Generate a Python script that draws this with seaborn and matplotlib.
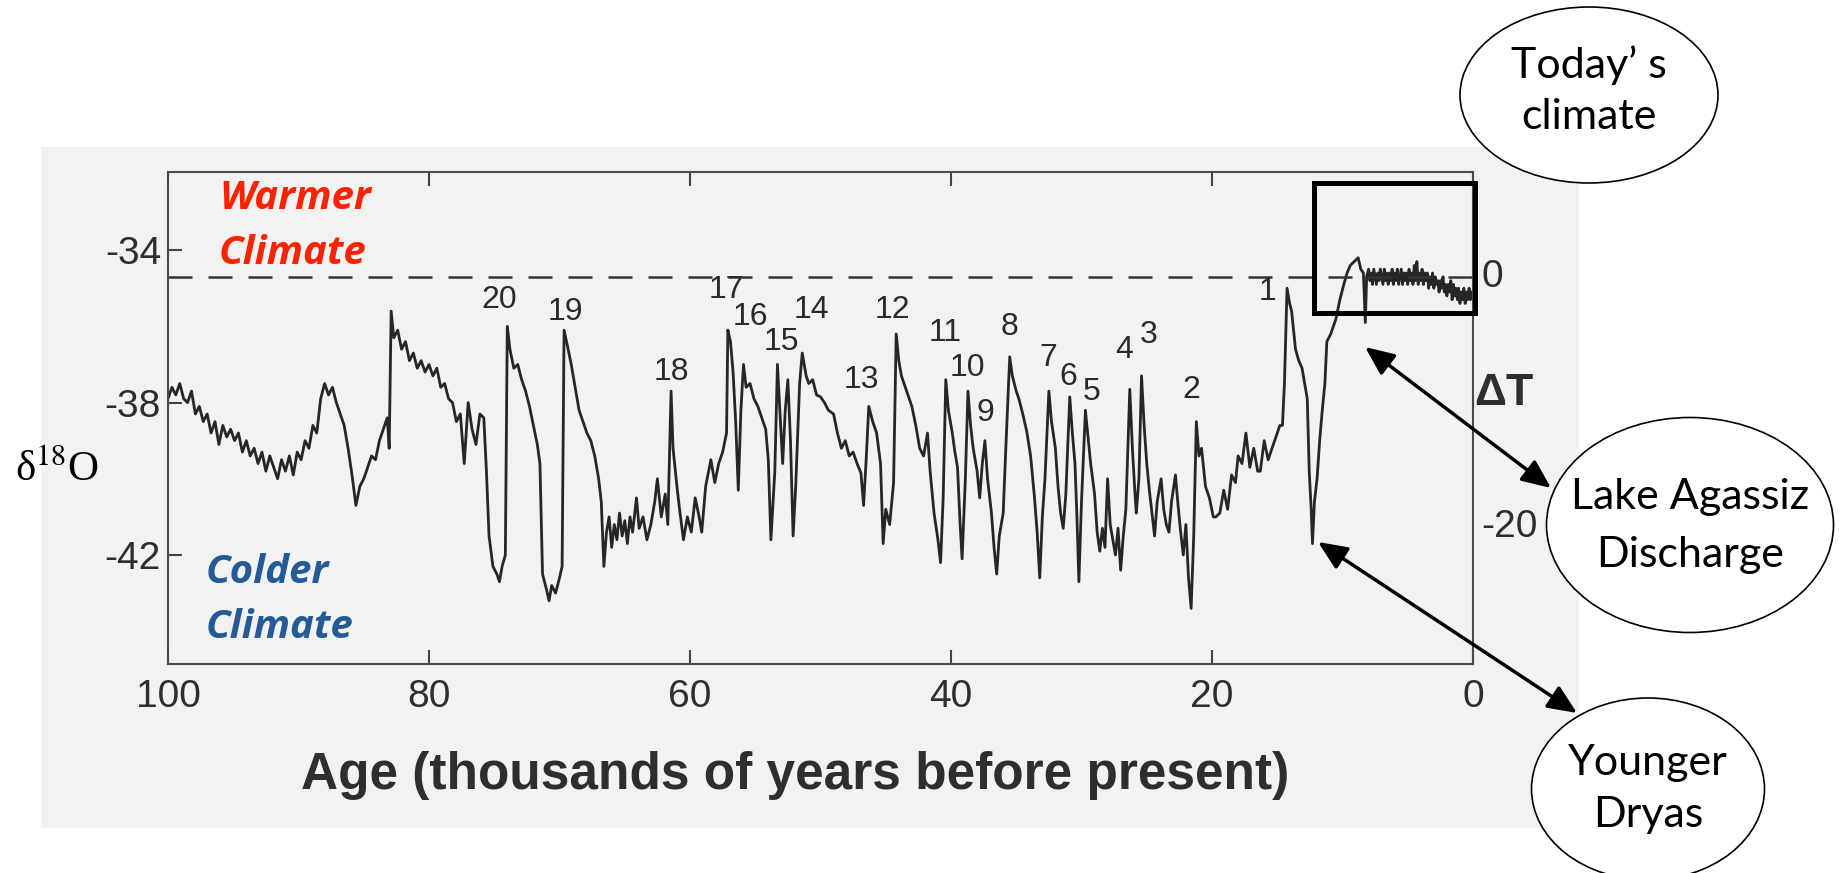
import pandas as pd
import matplotlib
matplotlib.use('Agg')
import matplotlib.pyplot as plt
import seaborn as sns
from matplotlib.patches import Ellipse, Rectangle, FancyArrowPatch

# GISP2-style oxygen isotope record
age_kyr = [
    100.0, 99.7, 99.4, 99.1, 98.8, 98.5, 98.2, 97.9, 97.6, 97.3,
    97.0, 96.7, 96.4, 96.1, 95.8, 95.5, 95.2, 94.9, 94.6, 94.3,
    94.0, 93.7, 93.4, 93.1, 92.8, 92.5, 92.2, 91.9, 91.6, 91.3,
    91.0, 90.7, 90.4, 90.1, 89.8, 89.5, 89.2, 88.9, 88.6, 88.3,
    88.0, 87.7, 87.4, 87.1, 86.8, 86.5, 86.2, 85.9, 85.6, 85.3,
    85.0, 84.7, 84.4, 84.1, 83.8, 83.5, 83.2, 83.05, 82.9, 82.7,
    82.4, 82.1, 81.8, 81.5, 81.2, 80.9, 80.6, 80.3, 80.0, 79.7,
    79.4, 79.1, 78.8, 78.5, 78.2, 77.9, 77.6, 77.3, 77.0, 76.7,
    76.4, 76.1, 75.8, 75.6, 75.4, 75.1, 74.8, 74.6, 74.4, 74.15,
    74.0, 73.8, 73.5, 73.2, 72.9, 72.6, 72.3, 72.0, 71.7, 71.5,
    71.3, 71.0, 70.8, 70.6, 70.3, 70.0, 69.8, 69.65, 69.4, 69.1,
    68.8, 68.5, 68.2, 67.9, 67.6, 67.3, 67.0, 66.8, 66.6, 66.4,
    66.2, 66.0, 65.8, 65.6, 65.4, 65.2, 65.0, 64.8, 64.6, 64.4,
    64.1, 63.9, 63.6, 63.3, 63.0, 62.7, 62.5, 62.2, 61.9, 61.7,
    61.45, 61.3, 61.0, 60.8, 60.5, 60.2, 59.9, 59.6, 59.3, 59.1,
    58.8, 58.4, 58.1, 57.8, 57.5, 57.2, 57.1, 56.9, 56.7, 56.5,
    56.3, 56.1, 55.9, 55.7, 55.4, 55.1, 54.8, 54.5, 54.2, 54.0,
    53.8, 53.5, 53.3, 53.1, 52.9, 52.7, 52.5, 52.3, 52.1, 51.9,
    51.6, 51.4, 51.1, 50.9, 50.6, 50.3, 50.0, 49.7, 49.4, 49.0,
    48.7, 48.4, 48.1, 47.8, 47.5, 47.2, 46.9, 46.7, 46.5, 46.3,
    46.0, 45.7, 45.4, 45.2, 45.0, 44.7, 44.4, 44.2, 44.0, 43.8,
    43.5, 43.2, 43.0, 42.7, 42.4, 42.1, 41.8, 41.6, 41.3, 41.0,
    40.8, 40.6, 40.4, 40.2, 39.9, 39.7, 39.5, 39.3, 39.15, 38.9,
    38.7, 38.5, 38.3, 38.0, 37.8, 37.6, 37.4, 37.2, 36.9, 36.7,
    36.5, 36.3, 36.0, 35.8, 35.5, 35.3, 35.0, 34.8, 34.5, 34.2,
    33.9, 33.6, 33.4, 33.2, 33.0, 32.8, 32.5, 32.3, 32.0, 31.8,
    31.6, 31.4, 31.2, 30.9, 30.7, 30.5, 30.35, 30.2, 30.0, 29.7,
    29.5, 29.3, 29.0, 28.8, 28.6, 28.4, 28.2, 28.0, 27.8, 27.6,
    27.4, 27.2, 27.0, 26.8, 26.6, 26.3, 26.1, 25.9, 25.8, 25.6,
    25.4, 25.2, 25.0, 24.8, 24.6, 24.4, 24.2, 23.9, 23.7, 23.5,
    23.3, 23.1, 22.8, 22.6, 22.4, 22.2, 22.0, 21.8, 21.6, 21.4,
    21.2, 21.0, 20.8, 20.5, 20.2, 19.9, 19.7, 19.4, 19.1, 18.8,
    18.5, 18.2, 18.0, 17.7, 17.4, 17.1, 16.8, 16.5, 16.3, 16.0,
    15.7, 15.3, 15.0, 14.8, 14.6, 14.45, 14.25, 14.05, 13.9, 13.6,
    13.35, 13.1, 12.9, 12.7, 12.55, 12.4, 12.3, 12.15, 11.95, 11.75,
    11.55, 11.35, 11.2, 10.9, 10.5, 10.2, 9.9, 9.65, 9.4, 9.1,
    8.8, 8.6, 8.4, 8.25, 8.15,
    8.0, 7.9, 7.8, 7.7, 7.6, 7.5, 7.4, 7.3, 7.2, 7.1,
    7.0, 6.9, 6.8, 6.7, 6.6, 6.5, 6.4, 6.3, 6.2, 6.1,
    6.0, 5.9, 5.8, 5.7, 5.6, 5.5, 5.4, 5.3, 5.2, 5.1,
    5.0, 4.9, 4.8, 4.7, 4.6, 4.5, 4.4, 4.3, 4.2, 4.1,
    4.0, 3.9, 3.8, 3.7, 3.6, 3.5, 3.4, 3.3, 3.2, 3.1,
    3.0, 2.9, 2.8, 2.7, 2.6, 2.5, 2.4, 2.3, 2.2, 2.1,
    2.0, 1.9, 1.8, 1.7, 1.6, 1.5, 1.4, 1.3, 1.2, 1.1,
    1.0, 0.9, 0.8, 0.7, 0.6, 0.5, 0.4, 0.3, 0.2, 0.1,
]
d18o = [
    -37.9, -37.6, -37.8, -37.5, -37.9, -38.0, -37.7, -38.3, -38.1, -38.5,
    -38.3, -38.8, -38.5, -39.1, -38.6, -38.9, -38.7, -39.0, -38.8, -39.3,
    -39.0, -39.4, -39.2, -39.6, -39.3, -39.8, -39.4, -39.7, -40.0, -39.5,
    -39.8, -39.4, -39.9, -39.3, -39.5, -39.0, -39.2, -38.6, -38.8, -37.9,
    -37.5, -37.8, -37.6, -38.0, -38.3, -38.6, -39.2, -39.9, -40.7, -40.2,
    -40.0, -39.7, -39.4, -39.5, -39.0, -38.7, -38.4, -39.2, -35.6, -36.3,
    -36.1, -36.6, -36.4, -36.9, -36.7, -37.1, -36.9, -37.2, -37.0, -37.3,
    -37.1, -37.6, -37.5, -37.9, -38.0, -38.5, -38.3, -39.6, -38.0, -38.7,
    -39.1, -38.3, -38.4, -39.8, -41.5, -42.3, -42.5, -42.7, -42.3, -42.0,
    -36.0, -36.6, -37.1, -37.0, -37.4, -37.7, -38.1, -38.6, -39.1, -39.6,
    -42.5, -42.9, -43.2, -42.8, -43.0, -42.6, -42.3, -36.1, -36.5, -37.0,
    -37.6, -38.2, -38.5, -38.8, -39.0, -39.4, -40.0, -40.6, -42.3, -41.4,
    -41.0, -41.8, -41.2, -41.6, -40.9, -41.5, -41.1, -41.7, -41.0, -41.4,
    -40.5, -41.3, -41.0, -41.6, -41.2, -40.6, -40.0, -41.0, -40.4, -41.2,
    -37.7, -39.2, -40.2, -40.8, -41.6, -41.0, -41.4, -40.5, -41.0, -41.4,
    -40.2, -39.5, -40.1, -39.6, -39.3, -38.8, -36.1, -36.4, -37.2, -38.5,
    -40.3, -38.2, -37.0, -37.6, -37.5, -37.9, -38.1, -38.4, -38.7, -39.5,
    -41.6, -39.8, -37.0, -38.3, -39.6, -38.2, -37.4, -39.0, -41.5, -40.2,
    -37.5, -36.7, -37.3, -37.5, -37.4, -37.8, -37.85, -38.0, -38.2, -38.3,
    -38.8, -39.2, -39.0, -39.4, -39.3, -39.6, -39.85, -40.7, -39.5, -38.1,
    -38.5, -38.8, -39.6, -41.7, -40.8, -41.2, -40.1, -36.2, -36.9, -37.3,
    -37.6, -37.9, -38.1, -38.6, -39.2, -39.4, -38.8, -39.8, -40.9, -41.6,
    -42.2, -40.5, -37.4, -38.2, -38.8, -39.3, -39.7, -41.2, -42.1, -40.0,
    -37.7, -38.6, -39.2, -39.8, -40.5, -39.6, -39.0, -40.0, -40.9, -41.8,
    -42.5, -41.5, -40.9, -39.2, -36.8, -37.3, -37.7, -37.9, -38.3, -38.75,
    -39.4, -40.5, -41.4, -42.6, -41.0, -40.0, -37.7, -38.5, -39.2, -40.2,
    -40.9, -41.3, -40.4, -37.85, -38.8, -39.6, -41.0, -42.7, -40.6, -38.2,
    -38.9, -39.6, -40.4, -41.4, -41.9, -41.3, -41.8, -40.0, -41.2, -41.6,
    -42.0, -41.3, -42.4, -41.5, -40.8, -37.65, -39.2, -40.4, -40.9, -40.0,
    -37.3, -38.6, -39.6, -40.3, -40.9, -41.5, -40.6, -40.0, -40.8, -41.2,
    -41.4, -40.6, -39.9, -40.7, -41.4, -42.0, -41.2, -42.6, -43.4, -41.5,
    -38.5, -39.4, -39.2, -40.2, -40.5, -41.0, -41.0, -40.9, -40.3, -40.8,
    -39.9, -40.1, -39.4, -39.6, -38.8, -39.7, -39.2, -39.8, -39.8, -39.0,
    -39.5, -39.1, -38.8, -38.6, -38.6, -37.5, -35.0, -35.4, -35.6, -36.6,
    -36.9, -37.1, -37.5, -37.9, -39.8, -40.8, -41.7, -40.6, -40.0, -39.0,
    -38.2, -37.5, -36.4, -36.2, -35.8, -35.3, -34.9, -34.6, -34.4, -34.3,
    -34.2, -34.5, -34.6, -35.9, -34.7,
    -34.5, -34.8, -34.6, -34.9, -34.5, -34.7, -34.9, -34.6, -34.8, -34.5,
    -34.7, -34.9, -34.5, -34.8, -34.6, -34.9, -34.6, -34.8, -34.5, -34.9,
    -34.6, -34.8, -34.5, -34.9, -34.7, -34.5, -34.9, -34.6, -34.8, -34.6,
    -34.9, -34.5, -34.8, -34.6, -34.9, -34.4, -34.8, -34.3, -34.9, -34.6,
    -34.8, -34.5, -34.9, -34.6, -34.8, -34.6, -35.0, -34.7, -34.9, -34.6,
    -35.0, -34.7, -34.9, -34.8, -35.1, -34.8, -35.0, -34.7, -35.1, -34.9,
    -35.2, -34.9, -35.1, -34.8, -35.3, -34.9, -35.2, -35.0, -35.3, -35.0,
    -35.4, -35.1, -35.3, -35.0, -35.4, -35.1, -35.3, -35.0, -35.3, -35.1,
]

x_ticks = [100, 80, 60, 40, 20, 0]
y_ticks = [-34, -38, -42]
dt_ticks = [0, -20]
modern_level = -34.71

# numbered interstadials and where their labels sit
event_labels = ['20', '19', '18', '17', '16', '15', '14', '13', '12', '11',
                '10', '9', '8', '7', '6', '5', '4', '3', '2', '1']
event_age = [74.64, 69.58, 61.46, 57.24, 55.40, 53.03, 50.73, 46.90, 44.52, 40.46,
             38.77, 37.39, 35.48, 32.57, 31.03, 29.20, 26.74, 24.83, 21.61, 15.71]
event_d18o = [-35.31, -35.63, -37.20, -35.05, -35.76, -36.41, -35.57, -37.41, -35.57, -36.18,
              -37.10, -38.28, -36.02, -36.83, -37.33, -37.72, -36.62, -36.23, -37.67, -35.10]

sns.set_style('ticks')
plt.rcParams['font.family'] = ['Liberation Sans', 'DejaVu Sans']
plt.rcParams['mathtext.fontset'] = 'stix'
plt.rcParams['axes.unicode_minus'] = False

W, H = 1843, 873
fig = plt.figure(figsize=(W / 100, H / 100), dpi=100)
fig.patch.set_facecolor('white')


def fx(px):
    return px / W


def fy(py):
    return 1 - py / H


# grey backdrop of the scanned figure
fig.add_artist(Rectangle((fx(41), fy(828)), fx(1579) - fx(41), fy(147) - fy(828),
                         transform=fig.transFigure, facecolor='#f2f2f2',
                         edgecolor='none', zorder=-1))

ax = fig.add_axes([fx(168), fy(664), fx(1473) - fx(168), fy(172) - fy(664)])
ax.set_facecolor('none')

df = pd.DataFrame({'age': age_kyr, 'd18o': d18o})
sns.lineplot(data=df, x='age', y='d18o', ax=ax, color='#262626', lw=2.0,
             estimator=None, sort=False)
ax.axhline(modern_level, color='#333333', lw=1.8, dashes=(9.6, 6.4))

ax.set_xlim(100, 0)
ax.set_ylim(-44.86, -31.95)
ax.set_xticks(x_ticks)
ax.set_xticklabels([str(t) for t in x_ticks])
ax.set_yticks(y_ticks)
ax.set_yticklabels([str(t) for t in y_ticks])
ax.tick_params(axis='both', direction='in', length=10, width=1.5, color='#444444',
               labelsize=28, labelcolor='#2e2e2e', top=True)
ax.tick_params(axis='x', pad=11)
ax.tick_params(axis='y', pad=5)
for s in ax.spines.values():
    s.set_color('#4a4a4a')
    s.set_linewidth(1.5)

ax.set_xlabel('Age (thousands of years before present)', fontsize=37,
              fontweight='bold', color='#2e2e2e')
ax.xaxis.set_label_coords(0.4805, -0.2276)
ax.xaxis.label.set_va('center')
ax.set_ylabel('')

ax2 = ax.twinx()
ax2.set_ylim(-31.28, 8.08)
ax2.set_yticks(dt_ticks)
ax2.set_yticklabels([str(t) for t in dt_ticks])
ax2.tick_params(axis='y', length=0, pad=6, labelsize=28, labelcolor='#2e2e2e')
for s in ax2.spines.values():
    s.set_visible(False)
ax2.set_ylabel('ΔT', rotation=0, fontsize=32, fontweight='bold', color='#2e2e2e')
ax2.yaxis.set_label_coords(1.0238, 0.5508)
ax2.yaxis.label.set_ha('center')
ax2.yaxis.label.set_va('center')

for lab, a, d in zip(event_labels, event_age, event_d18o):
    ax.text(a, d, lab, fontsize=23, ha='center', va='center', color='#2a2a2a')

ax.text(96.09, -32.64, 'Warmer', color='#ff2200', fontsize=29, fontweight='bold',
        style='italic', family='Open Sans', ha='left', va='center')
ax.text(96.09, -34.08, 'Climate', color='#ff2200', fontsize=29, fontweight='bold',
        style='italic', family='Open Sans', ha='left', va='center')
ax.text(97.09, -42.45, 'Colder', color='#245b96', fontsize=29, fontweight='bold',
        style='italic', family='Open Sans', ha='left', va='center')
ax.text(97.09, -43.91, 'Climate', color='#245b96', fontsize=29, fontweight='bold',
        style='italic', family='Open Sans', ha='left', va='center')

fig.text(fx(57), fy(470), 'δ$^{18}$O', family='Liberation Serif', fontsize=31,
         ha='center', va='center', color='black')

# highlight box around the Holocene
fig.add_artist(Rectangle((fx(1314), fy(313)), fx(1475) - fx(1314), fy(183) - fy(313),
                         transform=fig.transFigure, facecolor='none',
                         edgecolor='black', lw=3.6, zorder=3))

# call-out bubbles
bubbles = [
    ((1589, 95), 258, 176, ['Today’ s', 'climate'], [65, 117]),
    ((1690, 525), 287, 215, ['Lake Agassiz', 'Discharge'], [497, 555]),
    ((1648, 789), 233, 182, ['Younger', 'Dryas'], [763, 815]),
]
for (cx, cy), w, h, lines, ys in bubbles:
    fig.add_artist(Ellipse((fx(cx), fy(cy)), w / W, h / H, transform=fig.transFigure,
                           facecolor='white', edgecolor='black', lw=1.2, zorder=4))
    for txt, ty in zip(lines, ys):
        fig.text(fx(cx), fy(ty), txt, family='Lato', fontsize=31, ha='center',
                 va='center', color='black', zorder=5)

for (x0, y0), (x1, y1) in [((1365, 347), (1551, 488)), ((1318, 542), (1577, 713))]:
    fig.add_artist(FancyArrowPatch((fx(x0), fy(y0)), (fx(x1), fy(y1)),
                                   transform=fig.transFigure,
                                   arrowstyle='<|-|>,head_length=0.8,head_width=0.35',
                                   mutation_scale=22, lw=2.5, color='black',
                                   shrinkA=0, shrinkB=0, zorder=6))

fig.savefig('out.png', dpi=100)
